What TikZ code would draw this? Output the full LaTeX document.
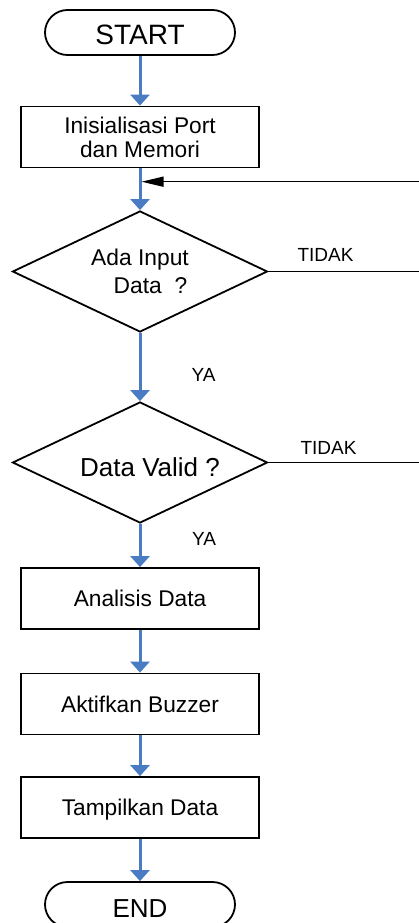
\documentclass[tikz,border=0pt]{standalone}
\usepackage{fontspec}
\setmainfont{Liberation Sans}
\usetikzlibrary{arrows.meta,shapes.geometric}
\definecolor{flowblue}{RGB}{74,124,196}
\begin{document}
\begin{tikzpicture}[x=1pt,y=-1pt,
  base/.style={draw=black,line width=1.8pt,inner sep=0pt,align=center,text depth=0pt},
  term/.style={base,rectangle,rounded corners=22.5pt,minimum width=190pt,minimum height=45pt,
    text height=25pt,font=\fontsize{28}{31}\selectfont},
  proc/.style={base,rectangle,minimum width=238pt,minimum height=61pt,
    font=\fontsize{22.7}{24.2}\selectfont},
  dec/.style={base,diamond,minimum width=255pt,minimum height=121pt,aspect=2.1},
  flow/.style={draw=flowblue,line width=3pt,-{Triangle[width=19pt,length=11pt]}},
  back/.style={draw=black,line width=1.5pt},
  backarrow/.style={back,-{Triangle[width=10pt,length=22pt]}},
  lbl/.style={inner sep=0pt,font=\fontsize{19}{22}\selectfont}]
\useasboundingbox (0,0) rectangle (418,923);

% main column of steps
\node[term] (start) at (140,32.5) {START};
\node[proc] (init) at (140,137) {Inisialisasi Port\\dan Memori};
\node[dec,font=\fontsize{22.8}{28.3}\selectfont] (d1) at (140,271.5)
  {Ada Input\\\hspace*{21pt}Data~~?};
\node[dec,font=\fontsize{26}{29}\selectfont,text height=27.6pt] (d2) at (140,462.5)
  {\hspace*{20pt}Data Valid ?};
\node[proc] (anal) at (140,598.5) {Analisis Data};
\node[proc] (buzz) at (140,704) {Aktifkan Buzzer};
\node[proc] (show) at (140,807.5) {Tampilkan Data};
\node[term,text height=25.5pt,font=\fontsize{26}{29}\selectfont] (stop) at (140,904.5) {END};

% branch labels
\node[lbl] (no1) at (325.5,255) {TIDAK};
\node[lbl] (no2) at (328.5,448) {TIDAK};
\node[lbl] (yes1) at (203.5,375) {YA};
\node[lbl] (yes2) at (204,539) {YA};

% loop-back points at the right edge
\coordinate (ret) at (420,181.7);
\coordinate (join) at (141.5,181.7);
\coordinate (out1) at (420,271.5);
\coordinate (out2) at (420,462.5);

% forward flow
\draw[flow] (start) -- (init);
\draw[flow] (init) -- (d1);
\draw[flow] (d1) -- (d2);
\draw[flow] (d2) -- (anal);
\draw[flow] (anal) -- (buzz);
\draw[flow] (buzz) -- (show);
\draw[flow] (show) -- (stop);

% "TIDAK" exits and the return into the loop
\draw[back] (d1.east) -- (out1);
\draw[back] (d2.east) -- (out2);
\draw[backarrow] (ret) -- (join);
\end{tikzpicture}
\end{document}
